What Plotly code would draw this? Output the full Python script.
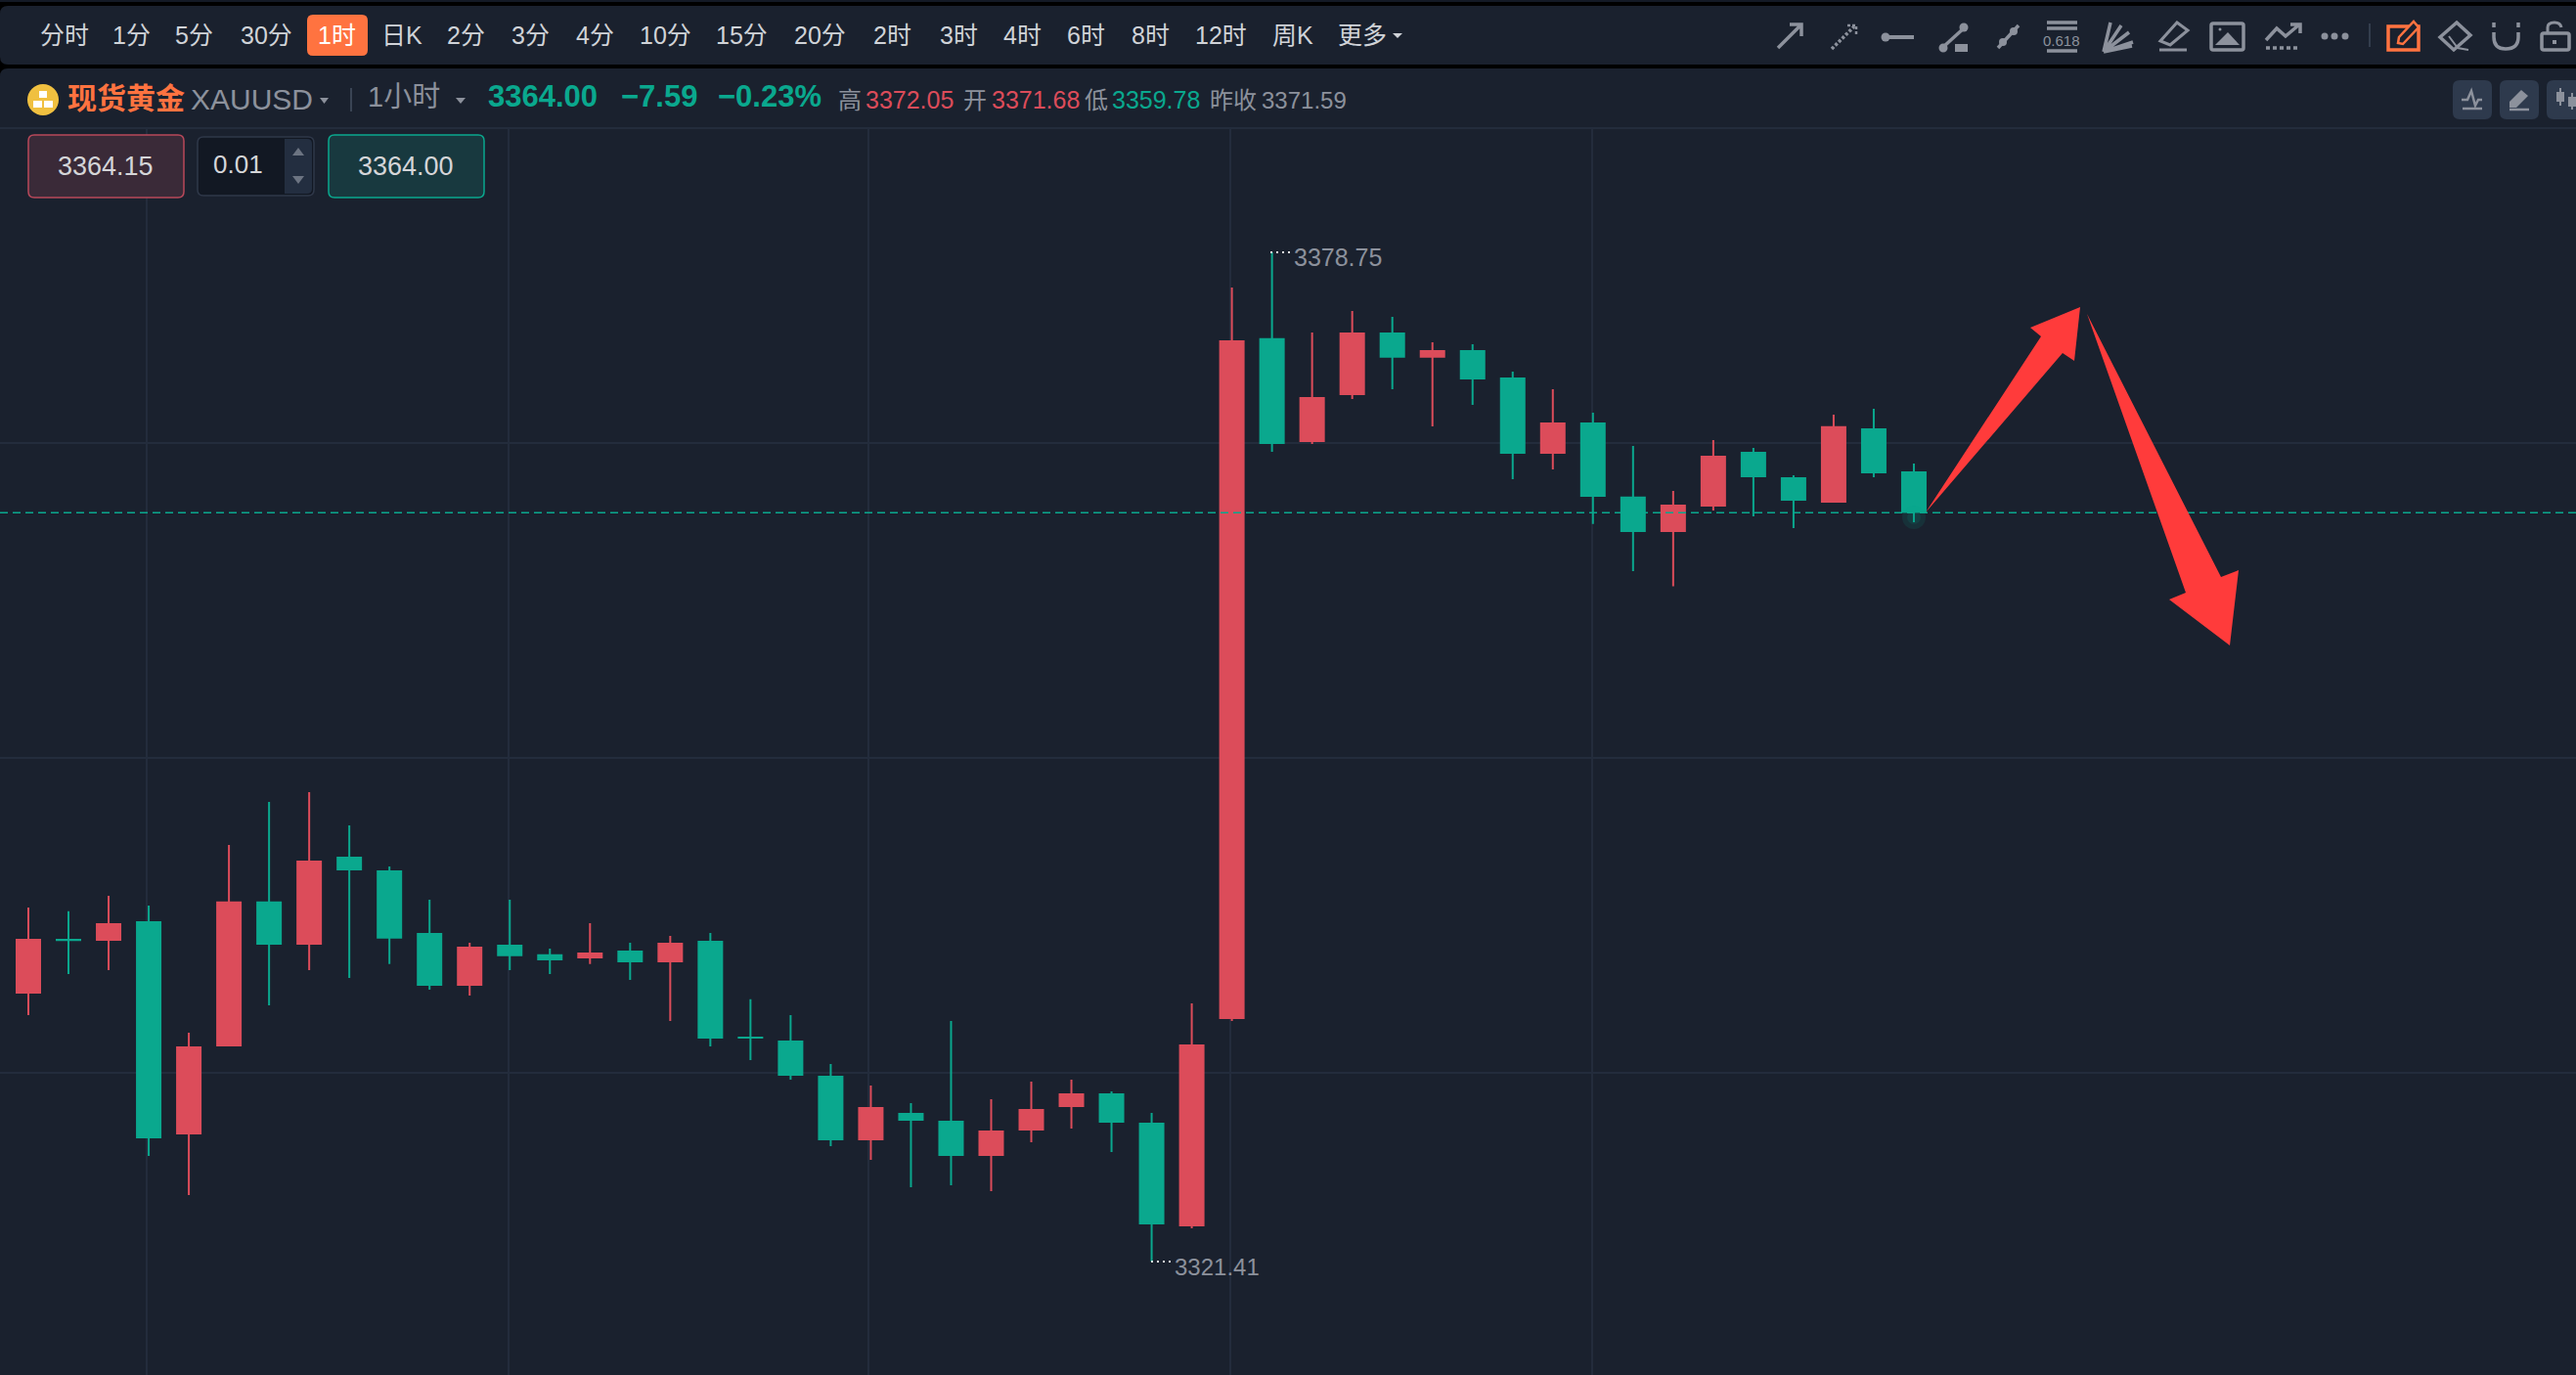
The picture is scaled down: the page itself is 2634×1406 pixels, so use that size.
import plotly.graph_objects as go

# candles, red = up, green = down
opens = [3336.69, 3339.69, 3339.69, 3340.69, 3328.69, 3333.69, 3341.81, 3339.47, 3344.36, 3343.58,
         3340.03, 3337.14, 3339.36, 3338.81, 3338.69, 3339.03, 3338.47, 3339.58, 3334.14, 3333.92,
         3331.92, 3328.36, 3329.81, 3329.36, 3327.47, 3328.92, 3330.25, 3330.92, 3329.25, 3323.47,
         3335.25, 3373.81, 3368.03, 3370.69, 3374.14, 3372.81, 3373.14, 3371.58, 3367.36, 3369.03,
         3364.81, 3362.92, 3364.36, 3367.36, 3365.92, 3364.58, 3368.69, 3366.25]
highs = [3341.53, 3341.31, 3342.19, 3341.64, 3334.42, 3345.08, 3347.53, 3348.08, 3346.19, 3343.86,
         3341.97, 3339.53, 3341.97, 3339.19, 3340.64, 3339.53, 3339.92, 3340.08, 3336.31, 3335.42,
         3332.64, 3331.42, 3330.42, 3335.08, 3330.64, 3331.64, 3331.75, 3331.08, 3329.86, 3336.08,
         3376.75, 3378.75, 3374.19, 3375.42, 3375.08, 3373.64, 3373.53, 3371.97, 3370.97, 3369.64,
         3367.75, 3365.19, 3368.08, 3367.64, 3366.08, 3369.53, 3369.86, 3366.75]
lows = [3335.42, 3337.75, 3337.97, 3327.42, 3325.19, 3333.64, 3335.97, 3337.97, 3337.53, 3338.31,
        3336.86, 3336.53, 3337.97, 3337.75, 3338.31, 3337.42, 3335.08, 3333.64, 3332.86, 3331.75,
        3327.97, 3327.19, 3325.64, 3325.75, 3325.42, 3328.19, 3328.97, 3327.64, 3321.41, 3323.31,
        3335.08, 3367.42, 3367.86, 3370.42, 3370.97, 3368.86, 3370.08, 3365.86, 3366.42, 3363.31,
        3360.64, 3359.78, 3364.08, 3363.75, 3363.08, 3364.53, 3365.97, 3363.42]
closes = [3339.69, 3339.68, 3340.58, 3328.47, 3333.58, 3341.81, 3339.47, 3344.14, 3343.69, 3339.81,
          3337.14, 3339.25, 3338.81, 3338.58, 3338.92, 3338.47, 3339.47, 3334.14, 3334.13, 3332.03,
          3328.36, 3330.14, 3329.47, 3327.47, 3328.81, 3330.03, 3330.92, 3329.36, 3323.58, 3333.69,
          3373.69, 3367.92, 3370.47, 3374.14, 3372.81, 3373.14, 3371.58, 3367.36, 3369.03, 3364.92,
          3362.92, 3364.36, 3367.14, 3366.03, 3364.69, 3368.81, 3366.25, 3364.00]
idx = list(range(len(opens)))

grid_prices = [3367.92, 3350.03, 3332.14]
grid_idx = [2.95, 11.97, 20.94, 29.96, 38.98]
last_price = 3363.95

tabs = ["分时", "1分", "5分", "30分", "1时", "日K", "2分", "3分", "4分", "10分", "15分", "20分",
        "2时", "3时", "4时", "6时", "8时", "12时", "周K", "更多"]
tab_x = [66, 134, 198, 272, 344, 411, 476, 542, 608, 680, 758, 838,
         912, 980, 1045, 1110, 1176, 1248, 1322, 1393]

BG = "#1a212e"
RED = "#dc4c5a"
GREEN = "#0aa88e"
ORANGE = "#ff7340"
GRAY = "#8c919c"
GRID = "#232c3c"
ARROW = "#ff3b3b"
FONT = "Liberation Sans, Noto Sans CJK SC"

fig = go.Figure()
fig.add_trace(go.Candlestick(
    x=idx, open=opens, high=highs, low=lows, close=closes,
    increasing=dict(line=dict(color=RED, width=2), fillcolor=RED),
    decreasing=dict(line=dict(color=GREEN, width=2), fillcolor=GREEN),
    whiskerwidth=0, hoverinfo="skip", showlegend=False,
))
# pixel overlay axes, everything on the chrome is placed on these
fig.add_trace(go.Scatter(
    x=[1957, 1957], y=[529, 529], xaxis="x2", yaxis="y2", mode="markers",
    marker=dict(size=[24, 14], color=GREEN, opacity=0.12, line=dict(width=0)),
    hoverinfo="skip", showlegend=False,
))


def px(path, fill=None, line=None, width=3, dash=None):
    s = dict(type="path", path=path, xref="x2", yref="y2", layer="above",
             line=dict(width=0 if line is None else width, color=line or "rgba(0,0,0,0)"))
    if dash:
        s["line"]["dash"] = dash
    if fill:
        s["fillcolor"] = fill
    fig.add_shape(**s)


def rrect(x0, y0, x1, y1, r):
    return (f"M {x0+r} {y0} L {x1-r} {y0} Q {x1} {y0} {x1} {y0+r} L {x1} {y1-r} Q {x1} {y1} {x1-r} {y1} "
            f"L {x0+r} {y1} Q {x0} {y1} {x0} {y1-r} L {x0} {y0+r} Q {x0} {y0} {x0+r} {y0} Z")


def circle(cx, cy, r, fill):
    fig.add_shape(type="circle", xref="x2", yref="y2", x0=cx-r, x1=cx+r, y0=cy-r, y1=cy+r,
                  fillcolor=fill, line=dict(width=0), layer="above")


def txt(s, x, y, size, color, anchor="center", bold=False):
    fig.add_annotation(text=f"<b>{s}</b>" if bold else s, x=x, y=y, xref="x2", yref="y2", showarrow=False,
                       xanchor=anchor, yanchor="middle", font=dict(size=size, color=color, family=FONT),
                       borderpad=0, borderwidth=0)


# price line over the candles
fig.add_shape(type="line", xref="paper", x0=0, x1=1, yref="y", y0=last_price, y1=last_price, layer="above",
              line=dict(color=GREEN, width=1.5, dash="8px,5px"))

# arrows
px("M 1969 524 L 2087 344 L 2076 335 L 2127 314 L 2121 369 L 2109 361 Z", fill=ARROW)
px("M 2134 321 L 2271 590 L 2289 583 L 2280 660 L 2218 613 L 2235 606 Z", fill=ARROW)

# dotted leaders for max and min
hi_i = highs.index(max(highs))
lo_i = lows.index(min(lows))
px("M 1299 258 L 1319 258", line="#e8e8e8", width=2, dash="2px,4px")
px("M 1177 1290 L 1197 1290", line="#e8e8e8", width=2, dash="2px,4px")
txt(f"{highs[hi_i]:.2f}", 1323, 263, 25, GRAY, "left")
txt(f"{lows[lo_i]:.2f}", 1201, 1295, 24, GRAY, "left")

# header panels
px("M 0 0 L 2634 0 L 2634 2 L 0 2 Z", fill="#141a26")
px("M 0 2 L 2634 2 L 2634 80 L 0 80 Z", fill="#000000")
px("M 0 14 Q 0 6 8 6 L 2634 6 L 2634 66 L 8 66 Q 0 66 0 58 Z", fill=BG)
px("M 0 78 Q 0 70 8 70 L 2634 70 L 2634 131 L 0 131 Z", fill=BG)
px("M 0 131 L 2634 131", line=GRID, width=2)

# timeframe tabs
px(rrect(314, 15, 376, 57, 6), fill=ORANGE)
for label, x in zip(tabs, tab_x):
    txt(label, x, 36, 25, "#ffffff" if label == "1时" else "#d0d3d8")
px("M 1424 34 L 1434 34 L 1429 39 Z", fill="#d0d3d8")

# drawing tools
px("M 1818 49 L 1841 26 M 1830 25 L 1842 25 L 1842 37", line=GRAY, width=3.5)
px("M 1873 50 L 1896 27", line=GRAY, width=3.5, dash="3px,2px")
px("M 1889 26 L 1898 26 L 1898 35", line=GRAY, width=2.5, dash="3px,2px")
px("M 1926 38 L 1957 38", line=GRAY, width=4)
circle(1928, 38, 4.5, GRAY)
px("M 1987 48 L 2009 28", line=GRAY, width=3.5)
circle(1987, 49, 4.5, GRAY)
circle(2008, 28, 4.5, GRAY)
px("M 1999 45 L 2012 45 L 2012 53 L 1999 53 Z", fill=GRAY)
px("M 2043 49 L 2064 26", line=GRAY, width=3.5)
circle(2048, 43, 4, GRAY)
circle(2059, 32, 4, GRAY)
px("M 2093 23 L 2124 23 M 2093 29 L 2124 29 M 2093 52 L 2124 52", line=GRAY, width=3.5)
txt("0.618", 2108, 41, 15, GRAY)
px("M 2151 53 L 2158 23 M 2151 53 L 2169 26 M 2151 53 L 2177 33 M 2151 53 L 2181 43 M 2151 53 L 2180 47", line=GRAY, width=3.5)
px("M 2226 23 L 2237 31 L 2219 46 L 2209 42 Z", line=GRAY, width=3)
px("M 2208 51 L 2236 51", line=GRAY, width=3)
px(rrect(2261, 24, 2294, 51, 2), line=GRAY, width=3.5)
px("M 2265 46 L 2278 33 L 2290 46 Z", fill=GRAY)
circle(2270, 30, 1.5, GRAY)
px("M 2317 41 L 2328 29 L 2337 37 L 2350 26 M 2342 25 L 2352 25 L 2352 34", line=GRAY, width=3.5)
px("M 2317 49 L 2352 49", line=GRAY, width=3.5, dash="4px,3px")
circle(2377, 37, 3.5, GRAY)
circle(2387, 37, 3.5, GRAY)
circle(2398, 37, 3.5, GRAY)
px("M 2423 24 L 2423 48", line="#333d4d", width=2)
px("M 2442 27 L 2473 27 L 2473 51 L 2442 51 Z", line=ORANGE, width=3.5)
px("M 2468 22 L 2473 28 L 2457 45 L 2452 44 L 2453 38 Z", fill=BG, line=ORANGE, width=2.5)
px("M 2512 23 L 2526 36 L 2509 51 L 2495 38 Z", line=GRAY, width=3.5)
px("M 2504 37 L 2513 49 L 2524 51", line=GRAY, width=2)
px("M 2550 33 L 2550 38 Q 2550 50 2562 50 Q 2575 50 2575 38 L 2575 33", line=GRAY, width=3.5)
px("M 2550 23 L 2550 28 M 2575 23 L 2575 28", line=GRAY, width=3.5)
px(rrect(2599, 34, 2627, 51, 2), line=GRAY, width=3.5)
px("M 2605 34 L 2605 28 Q 2605 23 2612 23 Q 2618 23 2619 28", line=GRAY, width=3)
px("M 2610 41 L 2614 41 L 2614 45 L 2610 45 Z", fill=GRAY)

# symbol row
circle(44, 102, 16, "#f0c040")
px("M 40 93 L 48 93 L 48 100 L 40 100 Z M 34 103 L 43 103 L 43 110 L 34 110 Z M 45 103 L 54 103 L 54 110 L 45 110 Z", fill="#ffffff")
txt("现货黄金", 69, 100, 30, ORANGE, "left", bold=True)
txt("XAUUSD", 195, 101, 30, GRAY, "left")
px("M 327 100 L 336 100 L 331.5 106 Z", fill=GRAY)
px("M 359 90 L 359 114", line="#3a4454", width=2)
txt("1小时", 376, 99, 29, GRAY, "left")
px("M 466 100 L 476 100 L 471 106 Z", fill=GRAY)
txt("3364.00", 499, 98, 31, GREEN, "left", bold=True)
txt("−7.59", 635, 98, 31, GREEN, "left", bold=True)
txt("−0.23%", 734, 98, 31, GREEN, "left", bold=True)
txt("高", 857, 102, 24, GRAY, "left")
txt("3372.05", 885, 102, 25, RED, "left")
txt("开", 985, 102, 24, GRAY, "left")
txt("3371.68", 1014, 102, 25, RED, "left")
txt("低", 1109, 102, 24, GRAY, "left")
txt("3359.78", 1137, 102, 25, GREEN, "left")
txt("昨收", 1237, 102, 24, GRAY, "left")
txt("3371.59", 1290, 102, 24, GRAY, "left")

# small buttons on the right of the symbol row
for x0 in [2508, 2556, 2604]:
    px(rrect(x0, 82, x0 + 40, 122, 7), fill="#2e3a4d")
px("M 2517 102 L 2523 102 L 2527 93 L 2531 108 L 2534 102 L 2538 102", line=GRAY, width=2.5)
px("M 2518 111 L 2538 111", line=GRAY, width=2.5)
px("M 2566 104 L 2578 92 L 2585 98 L 2573 110 L 2566 110 Z", fill=GRAY)
px("M 2566 112 L 2586 112", line=GRAY, width=2.5)
px("M 2618 90 L 2618 108 M 2630 95 L 2630 112", line=GRAY, width=2)
px("M 2614 94 L 2622 94 L 2622 104 L 2614 104 Z M 2626 99 L 2634 99 L 2634 109 L 2626 109 Z", fill=GRAY)

# order widget
px(rrect(29, 138, 188, 202, 6), fill="#3a2a38", line="#b8485a", width=1.5)
txt("3364.15", 108, 170, 27, "#d5d5d8")
px(rrect(202, 140, 321, 200, 6), fill="#121823", line="#2f3849", width=1.5)
px("M 291 142 L 314 142 Q 319 142 319 147 L 319 193 Q 319 198 314 198 L 291 198 Z", fill="#232e40")
txt("0.01", 243, 168, 26, "#d5d5d8")
px("M 305 151 L 311 159 L 299 159 Z M 299 180 L 311 180 L 305 188 Z", fill="#6c7482")
px(rrect(336, 138, 495, 202, 6), fill="#18393f", line=GREEN, width=1.5)
txt("3364.00", 415, 170, 27, "#d5d5d8")

fig.update_layout(
    width=2634, height=1406, margin=dict(l=0, r=0, t=0, b=0),
    paper_bgcolor=BG, plot_bgcolor=BG, showlegend=False, dragmode=False,
    xaxis=dict(range=[-0.707, 63.505], tickvals=grid_idx, showticklabels=False, ticks="", showgrid=True,
               gridcolor=GRID, gridwidth=2, zeroline=False, showline=False, rangeslider=dict(visible=False),
               fixedrange=True),
    yaxis=dict(range=[3314.97, 3393.08], tickvals=grid_prices, showticklabels=False, ticks="", showgrid=True,
               gridcolor=GRID, gridwidth=2, zeroline=False, showline=False, fixedrange=True),
    xaxis2=dict(range=[0, 2634], overlaying="x", anchor="y2", visible=False, fixedrange=True),
    yaxis2=dict(range=[1406, 0], overlaying="y", anchor="x2", visible=False, fixedrange=True),
    boxgap=0.415, boxgroupgap=0,
)

fig.write_html("out.html", config=dict(displayModeBar=False),
               post_script="document.body.style.margin='0';")
